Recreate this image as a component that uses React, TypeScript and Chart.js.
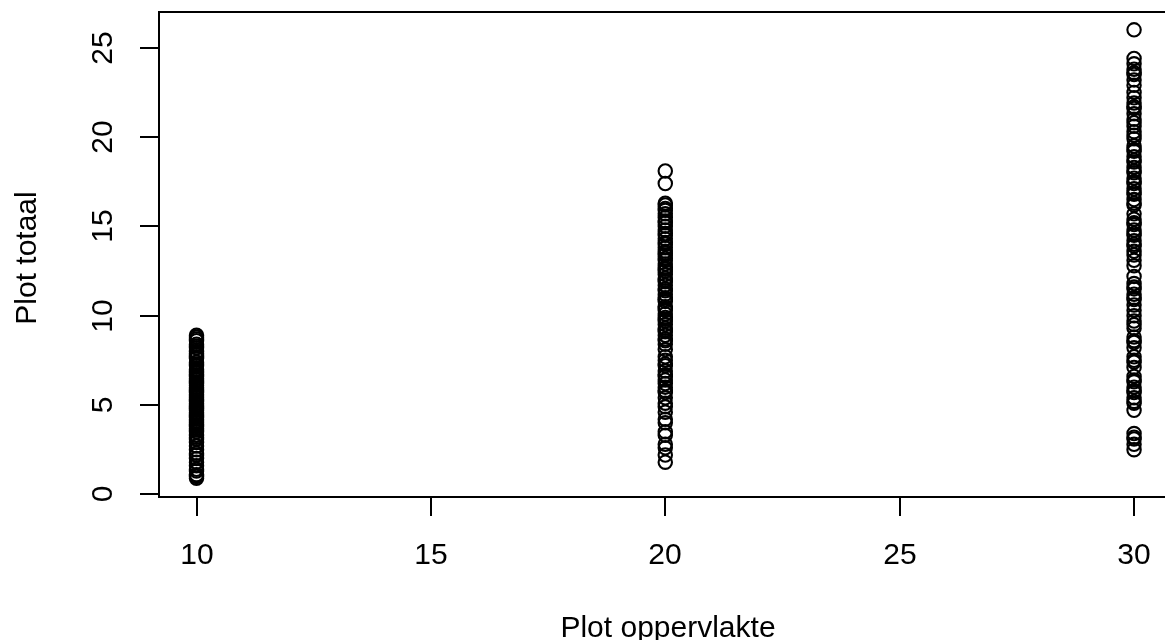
import React, { useEffect, useRef } from "react";
import { Chart, registerables } from "chart.js";

Chart.register(...registerables);

// Plot oppervlakte categories (x values)
const plotSizes = [10, 20, 30];

// Plot totaal values for each plot size
const totals10 = [
  8.9, 8.8, 8.7, 8.6, 8.4, 8.3, 8.2, 8.0, 7.9, 7.8, 7.7, 7.6, 7.4, 7.3, 7.2, 7.0,
  6.9, 6.8, 6.7, 6.6, 6.5, 6.4, 6.3, 6.2, 6.1, 6.0, 5.9, 5.8, 5.7, 5.6, 5.5, 5.4,
  5.3, 5.2, 5.1, 5.0, 4.9, 4.8, 4.7, 4.6, 4.5, 4.4, 4.3, 4.2, 4.1, 4.0, 3.9, 3.8,
  3.7, 3.6, 3.5, 3.3, 3.2, 3.1, 2.9, 2.7, 2.5, 2.3, 2.2, 2.0, 1.8, 1.6, 1.4, 1.3,
  1.1, 1.0, 0.9,
];
const totals20 = [
  18.1, 17.4, 16.3, 16.2, 16.0, 15.9, 15.7, 15.5, 15.3, 15.2, 15.0, 14.8, 14.6,
  14.5, 14.3, 14.1, 14.0, 13.8, 13.6, 13.5, 13.4, 13.2, 13.1, 12.9, 12.7, 12.6,
  12.5, 12.3, 12.1, 12.0, 11.9, 11.7, 11.5, 11.4, 11.2, 11.0, 10.9, 10.8, 10.5,
  10.4, 10.3, 10.1, 9.9, 9.8, 9.7, 9.5, 9.3, 9.2, 9.1, 8.9, 8.7, 8.6, 8.4, 8.1,
  7.7, 7.5, 7.3, 7.2, 6.9, 6.7, 6.6, 6.4, 6.2, 6.0, 5.8, 5.7, 5.4, 5.1, 4.9, 4.6,
  4.2, 4.0, 3.5, 3.3, 2.8, 2.6, 2.2, 1.8,
];
const totals30 = [
  26.0, 24.4, 24.1, 23.8, 23.6, 23.5, 23.2, 22.9, 22.5, 22.2, 21.9, 21.7, 21.6,
  21.3, 21.0, 20.8, 20.6, 20.3, 20.1, 19.9, 19.5, 19.3, 19.2, 18.9, 18.7, 18.6,
  18.3, 18.1, 18.0, 17.7, 17.5, 17.4, 17.1, 16.9, 16.8, 16.5, 16.3, 16.2, 15.7,
  15.4, 15.2, 15.1, 14.8, 14.6, 14.5, 14.2, 14.0, 13.9, 13.6, 13.4, 13.1, 12.8,
  12.2, 11.8, 11.6, 11.5, 11.2, 11.0, 10.9, 10.6, 10.3, 10.0, 9.7, 9.5, 9.3, 8.8,
  8.6, 8.5, 8.2, 7.7, 7.5, 7.4, 7.1, 6.6, 6.4, 6.3, 6.0, 5.8, 5.7, 5.4, 5.2, 5.1,
  4.7, 3.4, 3.2, 3.1, 2.8, 2.5,
];
const seriesValues = [totals10, totals20, totals30];

// Tick labels
const xTicks = [10, 15, 20, 25, 30];
const yTicks = [0, 5, 10, 15, 20, 25];

const xTitle = "Plot oppervlakte";
const yTitle = "Plot totaal";

const FONT = '30px "Liberation Sans", Arial, Helvetica, sans-serif';

const rAxesPlugin = {
  id: "rAxes",
  afterDraw(chart: any) {
    const ctx = chart.ctx as CanvasRenderingContext2D;
    const { left, top, bottom } = chart.chartArea;
    const xs = chart.scales.x;
    const ys = chart.scales.y;
    ctx.save();
    ctx.strokeStyle = "#000";
    ctx.fillStyle = "#000";
    ctx.lineWidth = 2;
    ctx.lineCap = "butt";
    // box (right side falls outside the picture)
    ctx.beginPath();
    ctx.moveTo(chart.width + 2, top);
    ctx.lineTo(left, top);
    ctx.lineTo(left, bottom);
    ctx.lineTo(chart.width + 2, bottom);
    ctx.stroke();

    ctx.font = FONT;
    // x axis ticks
    ctx.textAlign = "center";
    ctx.textBaseline = "alphabetic";
    for (const v of xTicks) {
      const px = Math.round(xs.getPixelForValue(v));
      ctx.beginPath();
      ctx.moveTo(px, bottom);
      ctx.lineTo(px, bottom + 19);
      ctx.stroke();
      ctx.fillText(String(v), px, 564);
    }
    // y axis ticks
    for (const v of yTicks) {
      const py = Math.round(ys.getPixelForValue(v));
      ctx.beginPath();
      ctx.moveTo(left, py);
      ctx.lineTo(left - 19, py);
      ctx.stroke();
      ctx.save();
      ctx.translate(112, py);
      ctx.rotate(-Math.PI / 2);
      ctx.fillText(String(v), 0, 0);
      ctx.restore();
    }
    // titles
    ctx.fillText(xTitle, 668, 637);
    ctx.save();
    ctx.translate(36, 258);
    ctx.rotate(-Math.PI / 2);
    ctx.fillText(yTitle, 0, 0);
    ctx.restore();
    ctx.restore();
  },
};

export default function App() {
  const canvasRef = useRef<HTMLCanvasElement | null>(null);

  useEffect(() => {
    document.body.style.margin = "0";
    const canvas = canvasRef.current;
    if (!canvas) return;
    const datasets = plotSizes.map((size, i) => ({
      label: String(size),
      data: seriesValues[i].map((y) => ({ x: size, y })),
      pointStyle: "circle" as const,
      pointRadius: 6.7,
      pointHoverRadius: 6.7,
      pointBorderWidth: 2.1,
      borderColor: "#000",
      backgroundColor: "rgba(0,0,0,0)",
      pointBackgroundColor: "rgba(0,0,0,0)",
      pointBorderColor: "#000",
      showLine: false,
      clip: false as any,
    }));
    const chart = new Chart(canvas, {
      type: "scatter",
      data: { datasets },
      options: {
        animation: false,
        responsive: false,
        devicePixelRatio: 1,
        layout: { autoPadding: false, padding: { left: 159, right: 0, top: 12, bottom: 143 } },
        plugins: {
          legend: { display: false },
          tooltip: { enabled: false },
          title: { display: false },
        },
        scales: {
          x: { type: "linear", min: 9.2, max: 30.66, display: false },
          y: { type: "linear", min: -0.15, max: 27.0, display: false },
        },
        events: [],
      },
      plugins: [rAxesPlugin],
    });
    return () => chart.destroy();
  }, []);

  return (
    <div style={{ width: 1165, height: 640, background: "#fff" }}>
      <canvas ref={canvasRef} width={1165} height={640} style={{ display: "block" }} />
    </div>
  );
}
